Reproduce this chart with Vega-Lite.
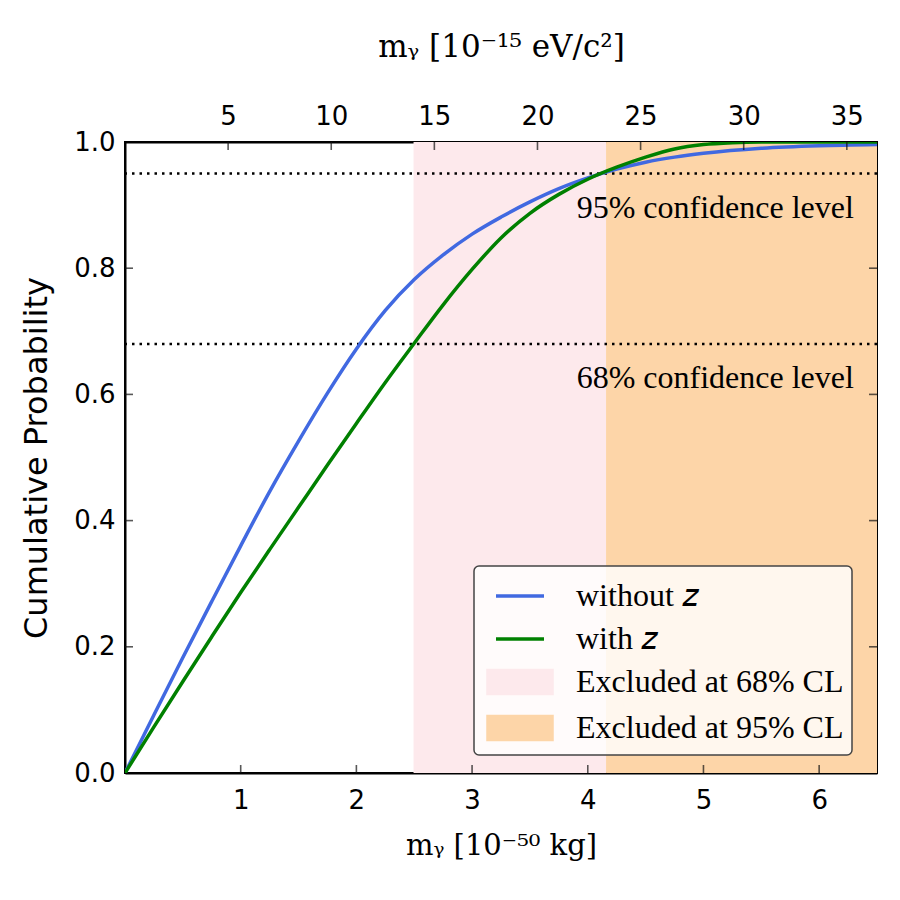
{
  "$schema": "https://vega.github.io/schema/vega-lite/v6.json",
  "width": 752,
  "height": 631,
  "autosize": "none",
  "padding": {"left": 125, "top": 142, "right": 23, "bottom": 127},
  "background": "white",
  "config": {
    "view": {"stroke": "black", "strokeWidth": 2},
    "axis": {"grid": false, "ticks": false, "domainColor": "black", "domainWidth": 2, "labelFont": "DejaVu Sans", "labelFontSize": 26, "labelColor": "black", "titleColor": "black"}
  },
  "datasets": {
    "curves": [
      {"x": 0, "p": 0, "name": "without z"},
      {"x": 0.25, "p": 0.092, "name": "without z"},
      {"x": 0.5, "p": 0.183, "name": "without z"},
      {"x": 0.75, "p": 0.272, "name": "without z"},
      {"x": 1.0, "p": 0.360, "name": "without z"},
      {"x": 1.25, "p": 0.446, "name": "without z"},
      {"x": 1.5, "p": 0.526, "name": "without z"},
      {"x": 1.75, "p": 0.602, "name": "without z"},
      {"x": 2.0, "p": 0.672, "name": "without z"},
      {"x": 2.25, "p": 0.733, "name": "without z"},
      {"x": 2.5, "p": 0.782, "name": "without z"},
      {"x": 2.75, "p": 0.821, "name": "without z"},
      {"x": 3.0, "p": 0.854, "name": "without z"},
      {"x": 3.25, "p": 0.881, "name": "without z"},
      {"x": 3.5, "p": 0.905, "name": "without z"},
      {"x": 3.75, "p": 0.926, "name": "without z"},
      {"x": 4.0, "p": 0.943, "name": "without z"},
      {"x": 4.25, "p": 0.957, "name": "without z"},
      {"x": 4.5, "p": 0.968, "name": "without z"},
      {"x": 4.75, "p": 0.976, "name": "without z"},
      {"x": 5.0, "p": 0.982, "name": "without z"},
      {"x": 5.5, "p": 0.990, "name": "without z"},
      {"x": 6.0, "p": 0.994, "name": "without z"},
      {"x": 6.5, "p": 0.996, "name": "without z"},
      {"x": 0, "p": 0, "name": "with z"},
      {"x": 0.25, "p": 0.073, "name": "with z"},
      {"x": 0.5, "p": 0.145, "name": "with z"},
      {"x": 0.75, "p": 0.216, "name": "with z"},
      {"x": 1.0, "p": 0.286, "name": "with z"},
      {"x": 1.25, "p": 0.354, "name": "with z"},
      {"x": 1.5, "p": 0.421, "name": "with z"},
      {"x": 1.75, "p": 0.488, "name": "with z"},
      {"x": 2.0, "p": 0.554, "name": "with z"},
      {"x": 2.25, "p": 0.619, "name": "with z"},
      {"x": 2.5, "p": 0.681, "name": "with z"},
      {"x": 2.75, "p": 0.742, "name": "with z"},
      {"x": 3.0, "p": 0.798, "name": "with z"},
      {"x": 3.25, "p": 0.848, "name": "with z"},
      {"x": 3.5, "p": 0.887, "name": "with z"},
      {"x": 3.75, "p": 0.917, "name": "with z"},
      {"x": 4.0, "p": 0.941, "name": "with z"},
      {"x": 4.25, "p": 0.960, "name": "with z"},
      {"x": 4.5, "p": 0.976, "name": "with z"},
      {"x": 4.75, "p": 0.989, "name": "with z"},
      {"x": 5.0, "p": 0.996, "name": "with z"},
      {"x": 5.25, "p": 0.999, "name": "with z"},
      {"x": 5.5, "p": 1.0, "name": "with z"},
      {"x": 6.0, "p": 1.0, "name": "with z"},
      {"x": 6.5, "p": 1.0, "name": "with z"}
    ],
    "bands": [
      {"x1": 2.494, "x2": 4.158, "name": "Excluded at 68% CL"},
      {"x1": 4.158, "x2": 6.5, "name": "Excluded at 95% CL"}
    ],
    "levels": [
      {"p": 0.95, "x": 6.3, "ty": 0.896, "label": "95% confidence level"},
      {"p": 0.68, "x": 6.3, "ty": 0.626, "label": "68% confidence level"}
    ],
    "xticks": [{"v": 1}, {"v": 2}, {"v": 3}, {"v": 4}, {"v": 5}, {"v": 6}],
    "yticks": [{"v": 0.2}, {"v": 0.4}, {"v": 0.6}, {"v": 0.8}],
    "eticks": [{"e": 5}, {"e": 10}, {"e": 15}, {"e": 20}, {"e": 25}, {"e": 30}, {"e": 35}]
  },
  "layer": [
    {
      "layer": [
        {
          "data": {"name": "bands"},
          "mark": {"type": "rect", "opacity": 1},
          "encoding": {
            "x": {"field": "x1", "type": "quantitative", "scale": {"domain": [0, 6.5], "nice": false}, "axis": {"orient": "bottom", "values": [1, 2, 3, 4, 5, 6], "format": "d", "labelPadding": 14, "title": "mᵧ [10⁻⁵⁰ kg]", "titleFont": "DejaVu Serif", "titleFontSize": 29, "titleFontWeight": "normal", "titlePadding": 18}},
            "x2": {"field": "x2"},
            "color": {"field": "name", "type": "nominal"}
          }
        },
        {
          "data": {"name": "levels"},
          "mark": {"type": "rule", "color": "black", "strokeWidth": 2.5, "strokeDash": [2.5, 5]},
          "encoding": {"y": {"field": "p", "type": "quantitative"}}
        },
        {
          "data": {"name": "levels"},
          "mark": {"type": "text", "align": "right", "baseline": "middle", "font": "Liberation Serif", "fontSize": 32, "color": "black"},
          "encoding": {
            "x": {"field": "x", "type": "quantitative"},
            "y": {"field": "ty", "type": "quantitative"},
            "text": {"field": "label"}
          }
        },
        {
          "data": {"name": "xticks"},
          "mark": {"type": "tick", "orient": "vertical", "size": 16, "thickness": 1.6, "color": "#111", "clip": true},
          "encoding": {
            "x": {"field": "v", "type": "quantitative"},
            "y": {"datum": 0, "type": "quantitative"}
          }
        },
        {
          "data": {"name": "yticks"},
          "mark": {"type": "tick", "orient": "horizontal", "size": 16, "thickness": 1.6, "color": "#111", "clip": true},
          "encoding": {
            "y": {"field": "v", "type": "quantitative"},
            "x": {"datum": 0, "type": "quantitative"}
          }
        },
        {
          "data": {"name": "yticks"},
          "mark": {"type": "tick", "orient": "horizontal", "size": 16, "thickness": 1.6, "color": "#111", "clip": true},
          "encoding": {
            "y": {"field": "v", "type": "quantitative"},
            "x": {"datum": 6.5, "type": "quantitative"}
          }
        },
        {
          "data": {"name": "curves"},
          "mark": {"type": "line", "strokeWidth": 3.5, "interpolate": "monotone", "clip": true},
          "encoding": {
            "x": {"field": "x", "type": "quantitative"},
            "y": {"field": "p", "type": "quantitative", "scale": {"domain": [0, 1], "nice": false}, "axis": {"orient": "left", "values": [0, 0.2, 0.4, 0.6, 0.8, 1.0], "format": ".1f", "labelPadding": 10, "title": "Cumulative Probability", "titleFont": "DejaVu Sans", "titleFontSize": 32, "titleFontWeight": "normal", "titlePadding": 20}},
            "color": {
              "field": "name", "type": "nominal",
              "scale": {"domain": ["without z", "with z", "Excluded at 68% CL", "Excluded at 95% CL"], "range": ["#4169E1", "#008000", "#FDE9EC", "#FDD5A8"]},
              "legend": {
                "title": null,
                "orient": "none",
                "legendX": 349,
                "legendY": 424,
                "fillColor": "rgba(255,255,255,0.8)",
                "strokeColor": "#444",
                "cornerRadius": 5,
                "padding": 8,
                "symbolOffset": 16,
                "labelFont": "Liberation Serif",
                "labelFontSize": 32,
                "labelLimit": 400,
                "labelColor": "black",
                "labelOffset": 34,
                "rowPadding": 5,
                "symbolSize": 1600,
                "symbolStrokeWidth": 3.5,
                "encode": {
                  "legend": {"update": {"strokeWidth": {"value": 1.5}}},
                  "symbols": {
                    "update": {
                      "shape": {"signal": "indexof(['without z','with z'], datum.value) >= 0 ? 'M-1.2,0H1.2' : 'M-1.6,-0.575H1.6V0.575H-1.6Z'"},
                      "stroke": {"signal": "indexof(['without z','with z'], datum.value) >= 0 ? scale('color', datum.value) : 'transparent'"},
                      "fill": {"signal": "indexof(['without z','with z'], datum.value) >= 0 ? 'transparent' : scale('color', datum.value)"},
                      "strokeWidth": {"value": 3.5},
                      "opacity": {"value": 1},
                      "fillOpacity": {"value": 1},
                      "strokeOpacity": {"value": 1}
                    }
                  },
                  "labels": {
                    "update": {
                      "text": {"signal": "datum.value == 'without z' ? 'without 𝑧' : datum.value == 'with z' ? 'with 𝑧' : datum.label"}
                    }
                  }
                }
              }
            }
          }
        }
      ]
    },
    {
      "data": {"name": "eticks"},
      "mark": {"type": "tick", "orient": "vertical", "size": 16, "thickness": 1.6, "color": "#111", "clip": true},
      "encoding": {
        "x": {"field": "e", "type": "quantitative", "scale": {"domain": [0, 36.463], "nice": false}, "axis": {"orient": "top", "values": [5, 10, 15, 20, 25, 30, 35], "labelPadding": 13, "title": "mᵧ [10⁻¹⁵ eV/c²]", "titleFont": "DejaVu Serif", "titleFontSize": 31, "titleFontWeight": "normal", "titlePadding": 40}},
        "y": {"datum": 1, "type": "quantitative", "scale": {"domain": [0, 1], "nice": false}, "axis": null}
      }
    }
  ],
  "resolve": {"scale": {"x": "independent", "y": "independent"}}
}
